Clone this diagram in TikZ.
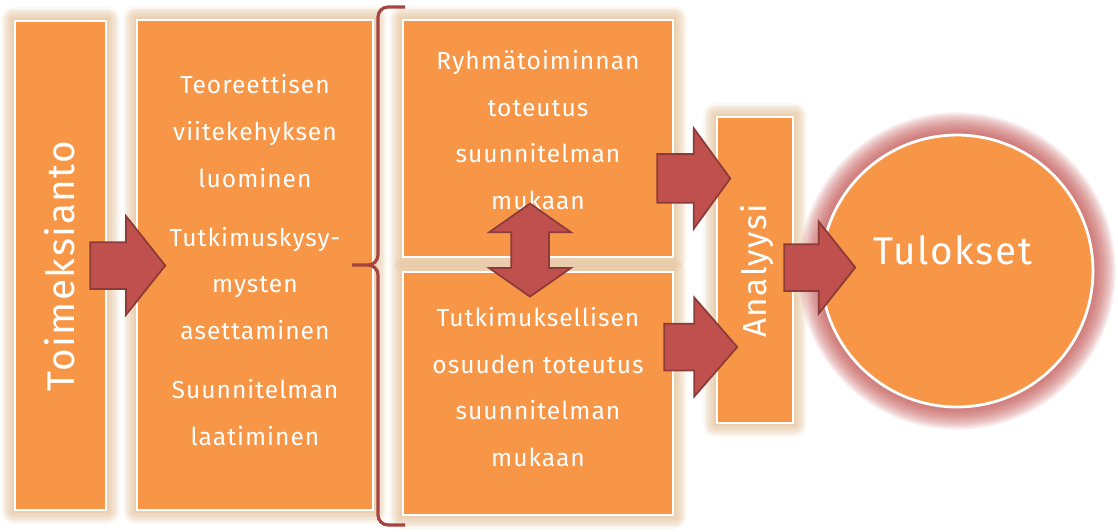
\documentclass[tikz,border=0pt]{standalone}
\usepackage{fontspec}
\setmainfont{Fira Sans}[LetterSpace=4]
\usetikzlibrary{shapes.arrows, shapes.geometric, positioning}
\pgfdeclarelayer{bg}
\pgfsetlayers{bg,main}

\definecolor{boxorange}{HTML}{F79646}
\definecolor{arrowred}{HTML}{C0504D}
\definecolor{arrowdark}{HTML}{8C3B39}
\definecolor{bracered}{HTML}{A8443F}
\definecolor{glowtan}{HTML}{D9A66E}
\definecolor{glowred}{HTML}{C0504D}

\tikzset{
  stepbox/.style={rectangle, fill=boxorange, draw=white, line width=1.6pt},
  boxglow/.style={draw=glowtan, draw opacity=0.08, line join=round},
  roundglow/.style={draw=glowred, draw opacity=0.08},
  boxtext/.style={text=white, align=center, font=\fontsize{14}{26.6}\selectfont},
  bigtext/.style={text=white, font=\fontsize{22}{26}\selectfont},
  fatarrow/.style={single arrow, fill=arrowred, draw=arrowdark, line width=1pt,
                   inner xsep=0pt, inner ysep=0.45cm, minimum width=0pt,
                   single arrow head extend=0.52cm, single arrow tip angle=104, anchor=tail},
  twoarrow/.style={double arrow, fill=arrowred, draw=arrowdark, line width=1pt,
                   inner xsep=0pt, inner ysep=0.36cm, minimum width=0pt,
                   double arrow head extend=0.44cm, double arrow tip angle=110, rotate=90},
  bracket/.style={draw=bracered, line width=1.8pt}
}

\begin{document}
\begin{tikzpicture}[x=0.02cm, y=-0.02cm]
	\useasboundingbox (0,0) rectangle (1118,531);

	% boxes %
	\node[stepbox, minimum width=1.82cm, minimum height=9.78cm] (task) at (60.5,265.5) {};
	\node[stepbox, minimum width=4.72cm, minimum height=9.8cm] (prep) at (255,265) {};
	\node[stepbox, minimum width=5.4cm, minimum height=4.74cm] (group) at (538,138.5) {};
	\node[stepbox, minimum width=5.4cm, minimum height=4.86cm] (research) at (538,393.5) {};
	\node[stepbox, minimum width=1.52cm, minimum height=6.12cm] (analysis) at (755,270) {};
	\node[circle, fill=boxorange, draw=white, line width=1.6pt,
		minimum size=5.44cm] (results) at (957,271) {};

	% soft glow behind the boxes %
	\begin{pgfonlayer}{bg}
		\foreach \n in {task, prep, group, research, analysis}
			\foreach \w in {2,3.5,...,15}
				\draw[boxglow, line width=\w pt] (\n.south west) rectangle (\n.north east);
		\foreach \w in {2,3.5,...,26}
			\draw[roundglow, line width=\w pt] (results.center) circle (2.72cm);
	\end{pgfonlayer}

	% texts %
	\node[bigtext, rotate=90] (tasktext) at (60,266) {Toimeksianto};
	\node[boxtext] (preptext) at (255,260) {Teoreettisen\\viitekehyksen\\luominen\\[7pt]
		Tutkimuskysy-\\mysten\\asettaminen\\[7pt]Suunnitelman\\laatiminen};
	\node[boxtext] (grouptext) at (538,130) {Ryhmätoiminnan\\toteutus\\suunnitelman\\mukaan};
	\node[boxtext] (researchtext) at (538,387) {Tutkimuksellisen\\osuuden toteutus\\suunnitelman\\mukaan};
	\node[bigtext, rotate=90, font=\fontsize{19}{24}\selectfont] (analysistext) at (757,271) {Analyysi};
	\node[bigtext] (resultstext) at (953,250) {Tulokset};

	% bracket %
	\coordinate (bracetip) at (352,265);
	\draw[bracket] (405,7) -- (388,7) to[out=180,in=90] (378,17) -- (378,255)
		to[out=-90,in=0] (368,265) -- (bracetip);
	\draw[bracket] (405,525) -- (388,525) to[out=180,in=-90] (378,515) -- (378,275)
		to[out=90,in=0] (368,265);

	% arrows %
	\node[fatarrow, minimum height=1.5cm, single arrow tip angle=103] (a1) at ([xshift=-0.36cm]task.east) {};
	\node[fatarrow, minimum height=1.46cm, inner ysep=0.47cm, single arrow tip angle=108] (a2)
		at ([xshift=-0.36cm, yshift=-0.8cm]group.east) {};
	\node[fatarrow, minimum height=1.46cm, single arrow tip angle=98] (a3)
		at ([xshift=-0.22cm, yshift=0.93cm]research.east) {};
	\node[fatarrow, minimum height=1.42cm, single arrow head extend=0.45cm, single arrow tip angle=103] (a4)
		at ([xshift=-0.22cm, yshift=0.05cm]analysis.east) {};
	\node[twoarrow, minimum height=1.86cm] (a5) at ([xshift=-0.16cm, yshift=0.41cm]research.north) {};

\end{tikzpicture}
\end{document}
